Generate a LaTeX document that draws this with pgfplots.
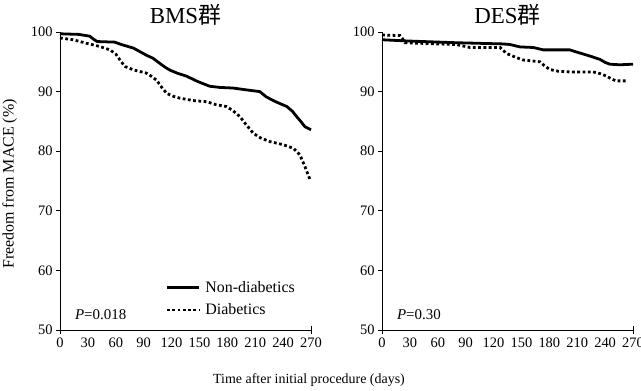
\documentclass[border=0pt]{standalone}
\usepackage{pgfplots}
\pgfplotsset{compat=1.18}
\usepackage{fontspec}
\setmainfont{Liberation Serif}
\newfontfamily\cjk{Noto Sans CJK SC}
\begin{document}
\begin{tikzpicture}
\pgfplotsset{
  km/.style={
    scale only axis, width=251bp, height=298bp,
    xmin=0, xmax=270, ymin=50, ymax=100,
    axis x line*=bottom, axis y line*=left,
    axis line style={line width=0.8pt, -},
    xtick={0,30,...,270}, ytick={50,60,...,100},
    major x tick style={draw=none},
    y tick style={line width=0.8pt, black},
    tick align=outside, major tick length=4bp,
    extra x ticks={0,270}, extra x tick labels={},
    extra x tick style={major x tick style={draw=black, line width=0.8pt}, tick align=center, major tick length=7bp},
    tick label style={font=\fontsize{14.5}{16}\selectfont},
    /pgf/number format/assume math mode=true,
    clip=false,
    title style={at={(0.5,1)}, anchor=south, yshift=-3bp, font=\fontsize{23}{25}\selectfont},
  },
  sol/.style={black, line width=2.8pt, line join=round},
  dot/.style={black, line width=2.8pt, dash pattern=on 2.8pt off 2.5pt},
}
\begin{axis}[km, at={(0,0)}, anchor=south west, title={BMS{\cjk 群}},
  ylabel={Freedom from MACE (\%)},
  ylabel style={font=\fontsize{16}{18}\selectfont, at={(-0.2,0.49)}, anchor=center},
  legend style={draw=none, fill=none, at={(0.42,0.105)}, anchor=west, inner sep=0pt,
    font=\fontsize{16}{18}\selectfont, row sep=6bp, nodes={inner sep=2pt}},
  legend cell align=left,
  legend image code/.code={\draw[#1] (0bp,0bp) -- (32bp,0bp);},
]
\addplot[sol] coordinates {
(0,99.7) (20,99.6) (32,99.3) (36,98.8) (40,98.4) (59,98.3) (66,97.9) (79,97.3) (86,96.7) (93,96.1) (100,95.6) (107.6,94.7) (113,94.1) (118.3,93.6) (126,93.1) (136,92.6) (148,91.7) (161,90.9) (172,90.7) (186,90.6) (200,90.3) (215,90.0) (222,89.1) (232,88.3) (244,87.5) (250,86.7) (254.6,85.8) (259,85.0) (263.5,84.1) (270,83.6)
};
\addlegendentry{\hspace{3bp}Non-diabetics}
\addplot[dot] coordinates {
(0,99.0) (14,98.7) (28.7,98.1) (42,97.6) (53.8,97.0) (60,96.3) (65,95.2) (70,94.2) (80,93.6) (93,93.1) (98,92.6) (104,91.9) (110,90.6) (114.8,89.7) (122,89.2) (129,88.9) (143,88.5) (157.8,88.3) (168,87.8) (179,87.5) (186,86.8) (193.6,85.8) (200,84.5) (208,83.0) (216,82.2) (226,81.6) (240,81.1) (251,80.5) (258,79.4) (263,77.6) (269,75.2)
};
\addlegendentry{\hspace{3bp}Diabetics}
\node[anchor=west, font=\fontsize{15}{17}\selectfont, inner sep=0pt] at (axis cs:16,52.6) {\textit{P}=0.018};
\end{axis}
\begin{axis}[km, at={(322bp,0)}, anchor=south west, title={DES{\cjk 群}}]
\addplot[sol] coordinates {
(0,98.7) (26.5,98.5) (80,98.2) (130,98.0) (137.7,97.9) (148.4,97.5) (162.8,97.4) (173.6,97.0) (202,97.0) (208,96.7) (216.6,96.3) (225,95.9) (234.5,95.4) (240,94.9) (245,94.6) (256,94.5) (270,94.6)
};
\addplot[dot] coordinates {
(0,99.5) (19.4,99.4) (22,98.9) (24.7,98.2) (60,98.0) (80,97.9) (94.7,97.4) (127,97.4) (134,96.4) (143,95.8) (152,95.3) (170,95.0) (175,94.3) (180.7,93.7) (190,93.4) (202,93.3) (227,93.3) (235,93.0) (241.6,92.6) (247,92.1) (252,91.8) (263,91.8)
};
\node[anchor=west, font=\fontsize{15}{17}\selectfont, inner sep=0pt] at (axis cs:16,52.6) {\textit{P}=0.30};
\end{axis}
\node[font=\fontsize{14}{16}\selectfont] at (249bp,-50bp) {Time after initial procedure (days)};
\pgfresetboundingbox
\useasboundingbox (-60bp,-61bp) rectangle (581bp,330bp);
\end{tikzpicture}
\end{document}
